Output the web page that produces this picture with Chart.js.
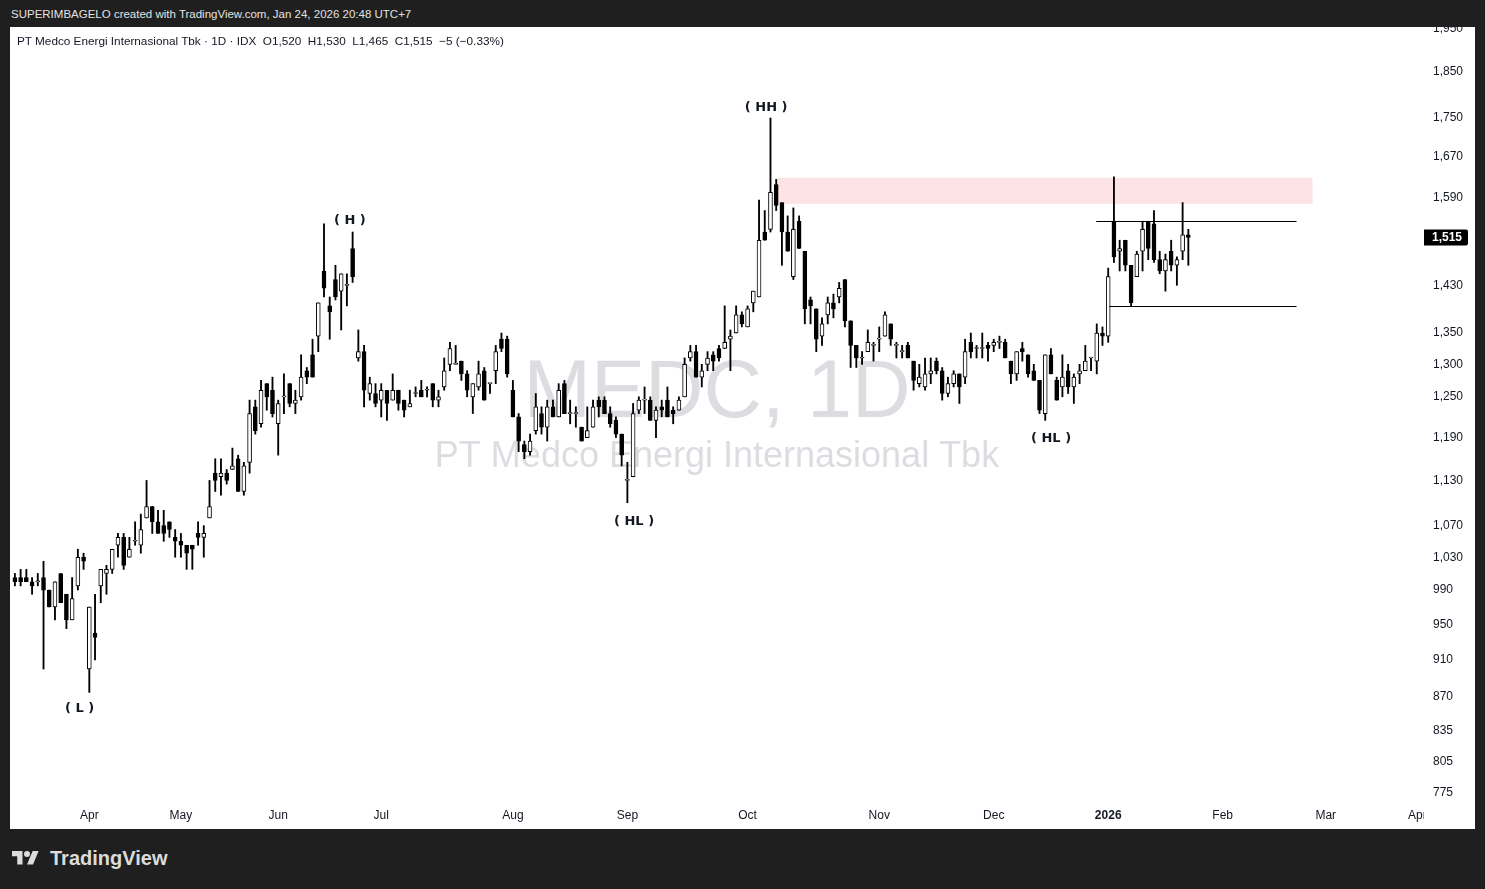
<!DOCTYPE html>
<html>
<head>
<meta charset="utf-8">
<script src="https://cdn.jsdelivr.net/npm/chart.js@4.4.1/dist/chart.umd.min.js"></script>
<style>
  html, body { margin:0; padding:0; width:1485px; height:889px; overflow:hidden; background:#1f1f1f; font-family:"Liberation Sans", Arial, sans-serif; }
  #hdr { position:absolute; left:11px; top:6px; color:#e2e2e2; font-size:11.5px; line-height:16px; white-space:nowrap; }
  #panel { position:absolute; left:10px; top:27px; width:1465px; height:802px; background:#ffffff; }
  #cv { position:absolute; left:0; top:0; }
  #info { position:absolute; left:7px; top:7px; color:#131722; font-size:11.75px; line-height:14px; white-space:pre; }
  #footer { position:absolute; left:12px; top:846px; height:24px; display:flex; align-items:center; }
  #footer span { color:#dcdcdc; font-weight:bold; font-size:20px; margin-left:11px; letter-spacing:0; }
</style>
</head>
<body>
<div id="hdr">SUPERIMBAGELO created with TradingView.com, Jan 24, 2026 20:48 UTC+7</div>
<div id="panel">
  <canvas id="cv" width="1465" height="802"></canvas>
  <div id="info">PT Medco Energi Internasional Tbk · 1D · IDX  O1,520  H1,530  L1,465  C1,515  −5 (−0.33%)</div>
</div>
<div id="footer">
  <svg width="27" height="21" viewBox="0 0 36 28"><path fill="#dcdcdc" d="M14 22H7V11H0V4h14v18zM28 22h-8l7.5-18h8L28 22z"/><circle fill="#dcdcdc" cx="20" cy="8" r="4"/></svg>
  <span>TradingView</span>
</div>
<script>
// ---- data (daily candles, bar index 0 = first visible session) ----
const opens = [
1005,1005,1005,1000,1000,1005,990,970,1010,985,
955,995,1030,900,940,995,1010,1015,1045,1055,
1030,1050,1045,1080,1095,1075,1070,1075,1055,1050,
1045,1045,1060,1055,1080,1140,1135,1140,1145,1160,
1115,1155,1235,1210,1270,1260,1210,1250,1270,1240,
1250,1290,1315,1345,1455,1395,1440,1420,1430,1495,
1310,1320,1255,1255,1245,1260,1245,1260,1245,1235,
1255,1260,1260,1270,1245,1265,1300,1300,1305,1285,
1250,1265,1290,1270,1290,1340,1340,1260,1220,1180,
1170,1200,1225,1205,1235,1220,1270,1225,1225,1205,
1190,1205,1245,1245,1225,1215,1195,1130,1135,1230,
1245,1245,1215,1235,1245,1230,1230,1250,1310,1320,
1280,1300,1315,1325,1325,1340,1350,1380,1360,1400,
1410,1525,1530,1615,1580,1525,1445,1545,1490,1405,
1390,1345,1380,1400,1410,1440,1370,1330,1310,1320,
1330,1340,1345,1365,1330,1320,1330,1305,1270,1265,
1285,1305,1290,1255,1270,1285,1280,1335,1325,1325,
1330,1330,1335,1335,1305,1285,1325,1315,1290,1275,
1225,1315,1275,1265,1290,1265,1285,1290,1310,1305,
1350,1345,1545,1490,1510,1465,1445,1490,1545,1540,
1475,1455,1490,1465,1490,1520];
const highs = [
1010,1015,1015,1005,1010,1025,990,1000,1010,985,
1005,1040,1035,970,985,1015,1020,1040,1060,1060,
1055,1075,1085,1130,1095,1090,1090,1075,1065,1060,
1045,1045,1075,1070,1130,1160,1160,1145,1175,1165,
1155,1245,1245,1275,1270,1280,1245,1285,1270,1260,
1315,1295,1340,1400,1540,1410,1465,1450,1450,1525,
1355,1330,1280,1270,1270,1260,1285,1260,1245,1260,
1265,1275,1265,1270,1260,1310,1335,1330,1305,1290,
1270,1305,1295,1270,1330,1350,1345,1275,1225,1185,
1195,1255,1235,1245,1245,1270,1275,1245,1235,1205,
1235,1245,1250,1250,1235,1220,1195,1155,1240,1250,
1265,1250,1235,1245,1265,1235,1250,1310,1330,1330,
1300,1320,1320,1330,1395,1355,1395,1385,1395,1420,
1585,1565,1750,1625,1580,1555,1570,1555,1490,1410,
1390,1375,1410,1415,1435,1440,1370,1330,1320,1355,
1335,1360,1385,1365,1335,1330,1335,1305,1300,1310,
1310,1310,1295,1280,1290,1285,1340,1350,1330,1350,
1335,1340,1345,1340,1305,1320,1335,1315,1300,1275,
1315,1325,1280,1315,1300,1285,1300,1330,1310,1365,
1360,1460,1630,1510,1510,1465,1490,1545,1545,1565,
1490,1485,1510,1480,1580,1530];
const lows = [
995,995,1000,985,995,900,970,955,975,945,
955,990,1015,875,910,975,985,1010,1030,1015,
1030,1045,1035,1080,1060,1060,1050,1055,1030,1030,
1015,1015,1045,1030,1080,1115,1110,1125,1145,1115,
1110,1140,1195,1205,1230,1220,1165,1225,1235,1225,
1245,1270,1280,1320,1410,1340,1405,1355,1395,1435,
1305,1235,1245,1235,1220,1215,1245,1230,1220,1235,
1250,1250,1250,1235,1235,1260,1290,1300,1275,1250,
1225,1260,1245,1255,1270,1320,1280,1220,1170,1160,
1165,1195,1195,1185,1220,1220,1225,1210,1205,1185,
1190,1205,1220,1225,1205,1190,1150,1100,1135,1225,
1225,1215,1190,1220,1220,1210,1230,1250,1305,1280,
1265,1290,1290,1305,1325,1290,1350,1360,1360,1385,
1410,1510,1525,1565,1465,1490,1440,1495,1365,1365,
1320,1330,1365,1375,1400,1360,1295,1295,1300,1320,
1305,1320,1345,1330,1310,1310,1310,1260,1265,1260,
1270,1285,1245,1250,1265,1240,1270,1310,1310,1310,
1305,1320,1325,1310,1270,1275,1305,1280,1275,1225,
1215,1285,1245,1250,1255,1240,1270,1290,1290,1285,
1330,1335,1470,1455,1455,1395,1445,1455,1475,1470,
1450,1420,1455,1430,1475,1465];
const closes = [
1000,1000,1000,995,1000,990,970,1000,975,955,
980,1030,1025,970,935,1015,1015,1040,1055,1020,
1040,1050,1065,1095,1075,1060,1060,1065,1050,1045,
1035,1040,1055,1060,1095,1130,1140,1130,1150,1115,
1150,1225,1200,1260,1250,1225,1240,1250,1240,1245,
1280,1280,1280,1400,1425,1385,1410,1450,1430,1445,
1320,1260,1270,1240,1260,1240,1260,1240,1230,1240,
1255,1250,1260,1245,1250,1290,1325,1300,1285,1260,
1270,1285,1245,1270,1320,1325,1285,1220,1185,1170,
1185,1235,1205,1235,1220,1260,1225,1225,1225,1185,
1200,1235,1235,1225,1210,1195,1165,1130,1225,1245,
1245,1215,1230,1230,1220,1225,1245,1300,1320,1280,
1290,1310,1305,1310,1335,1345,1380,1365,1390,1420,
1510,1510,1600,1575,1525,1490,1530,1495,1390,1395,
1340,1365,1400,1390,1425,1370,1330,1310,1310,1335,
1330,1340,1380,1340,1330,1320,1310,1275,1280,1285,
1290,1290,1255,1270,1285,1265,1320,1320,1325,1325,
1325,1335,1335,1310,1285,1320,1320,1285,1275,1230,
1315,1285,1245,1280,1265,1280,1290,1305,1310,1350,
1345,1445,1480,1495,1465,1400,1485,1530,1495,1475,
1455,1475,1465,1475,1520,1515];

// time axis: bar index of the first session of each month, and its label
const monthIdx    = [13, 29, 46, 64, 87, 107, 128, 151, 171, 191, 211, 229, 245];
const monthLabels = ['Apr','May','Jun','Jul','Aug','Sep','Oct','Nov','Dec','2026','Feb','Mar','Apr'];
// price axis labels
const yTicks = [775, 805, 835, 870, 910, 950, 990, 1030, 1070, 1130, 1190, 1250, 1300, 1350, 1430, 1590, 1670, 1750, 1850, 1950];
const lastClose = 1515;

// drawings (in bar index / price units)
const supplyZone = { from: 133.2, to: 226.7, top: 1628, bottom: 1578 };
const hLines = [ { price: 1545, from: 188.9, to: 223.9 }, { price: 1395, from: 191.2, to: 223.9 } ];
const notes = [
  { text: '( L )',  idx: 11.29,  price: 858 },
  { text: '( H )',  idx: 58.51,  price: 1547 },
  { text: '( HL )', idx: 108.16, price: 1075 },
  { text: '( HH )', idx: 131.25, price: 1772 },
  { text: '( HL )', idx: 181.01, price: 1188 }
];

const idx = opens.map((_, i) => i);
const wickData = idx.map(i => ({ x: i, y: [lows[i], highs[i]] }));
const bodyData = idx.map(i => ({ x: i, y: [opens[i], closes[i]] }));
const bodyColors = idx.map(i => closes[i] >= opens[i] ? '#ffffff' : '#000000');

const FONT = '"Liberation Sans", Arial, sans-serif';

const overlay = {
  id: 'overlay',
  beforeDatasetsDraw(chart) {
    const { ctx, chartArea: a, scales: { x, y } } = chart;
    ctx.save();
    const cx = (a.left + a.right) / 2;
    ctx.fillStyle = '#dcdde1';
    ctx.textAlign = 'center';
    ctx.textBaseline = 'alphabetic';
    ctx.font = '81px ' + FONT;
    ctx.fillText('MEDC, 1D', cx, 389.5);
    ctx.font = '36px ' + FONT;
    ctx.fillText('PT Medco Energi Internasional Tbk', cx, 440);
    const x1 = x.getPixelForValue(supplyZone.from), x2 = x.getPixelForValue(supplyZone.to);
    const y1 = y.getPixelForValue(supplyZone.top), y2 = y.getPixelForValue(supplyZone.bottom);
    ctx.fillStyle = 'rgba(242,54,69,0.14)';
    ctx.fillRect(x1, y1, x2 - x1, y2 - y1);
    ctx.restore();
  },
  afterDatasetsDraw(chart) {
    const { ctx, scales: { x, y } } = chart;
    ctx.save();
    ctx.strokeStyle = '#000000';
    ctx.lineWidth = 1;
    hLines.forEach(l => {
      const yy = Math.round(y.getPixelForValue(l.price)) + 0.5;
      ctx.beginPath();
      ctx.moveTo(x.getPixelForValue(l.from), yy);
      ctx.lineTo(x.getPixelForValue(l.to), yy);
      ctx.stroke();
    });
    ctx.fillStyle = '#131722';
    ctx.font = 'bold 13px "DejaVu Sans", sans-serif';
    ctx.textAlign = 'center';
    ctx.textBaseline = 'middle';
    notes.forEach(n => ctx.fillText(n.text, x.getPixelForValue(n.idx), y.getPixelForValue(n.price)));
    ctx.restore();
  },
  afterDraw(chart) {
    const { ctx, chartArea: a, scales: { y } } = chart;
    ctx.save();
    ctx.fillStyle = '#ffffff';
    ctx.fillRect(a.right, a.bottom, chart.width - a.right, chart.height - a.bottom);
    const yy = y.getPixelForValue(lastClose);
    ctx.fillStyle = '#000000';
    ctx.beginPath();
    ctx.roundRect(a.right, yy - 8, 44, 16, [0, 2, 2, 0]);
    ctx.fill();
    ctx.fillStyle = '#ffffff';
    ctx.font = 'bold 12px ' + FONT;
    ctx.textAlign = 'left';
    ctx.textBaseline = 'middle';
    ctx.fillText(lastClose.toLocaleString('en-US'), a.right + 8, yy + 0.5);
    ctx.restore();
  }
};

new Chart(document.getElementById('cv'), {
  type: 'bar',
  data: {
    datasets: [
      { label: 'wick', data: wickData, backgroundColor: '#000000', borderWidth: 0, barThickness: 1.2, grouped: false, order: 2 },
      { label: 'body', data: bodyData, backgroundColor: bodyColors, borderColor: '#000000', borderWidth: 1,
        borderSkipped: false, barThickness: 4, minBarLength: 1, grouped: false, order: 1 }
    ]
  },
  options: {
    responsive: false,
    animation: false,
    layout: { padding: 0 },
    plugins: { legend: { display: false }, tooltip: { enabled: false } },
    scales: {
      x: {
        type: 'linear', min: -0.856, max: 246.17, offset: false,
        grid: { display: false, drawTicks: false }, border: { display: false },
        afterBuildTicks: s => { s.ticks = monthIdx.map(v => ({ value: v })); },
        afterFit: s => { s.height = 28; s.paddingLeft = 0; s.paddingRight = 0; },
        ticks: {
          autoSkip: false, maxRotation: 0, minRotation: 0, padding: 7, color: '#131722',
          font: c => ({ family: FONT, size: 12, weight: (c.tick && c.tick.value === 191) ? 'bold' : 'normal' }),
          callback: v => monthLabels[monthIdx.indexOf(v)]
        }
      },
      y: {
        type: 'logarithmic', position: 'right', min: 767.5, max: 1953.1,
        grid: { display: false, drawTicks: false }, border: { display: false },
        afterBuildTicks: s => { s.ticks = yTicks.map(v => ({ value: v })); },
        afterFit: s => { s.width = 51; s.paddingTop = 0; s.paddingBottom = 0; },
        ticks: {
          autoSkip: false, padding: 9, color: '#131722', font: { family: FONT, size: 12 },
          callback: v => Number(v).toLocaleString('en-US')
        }
      }
    }
  },
  plugins: [overlay]
});
</script>
</body>
</html>
